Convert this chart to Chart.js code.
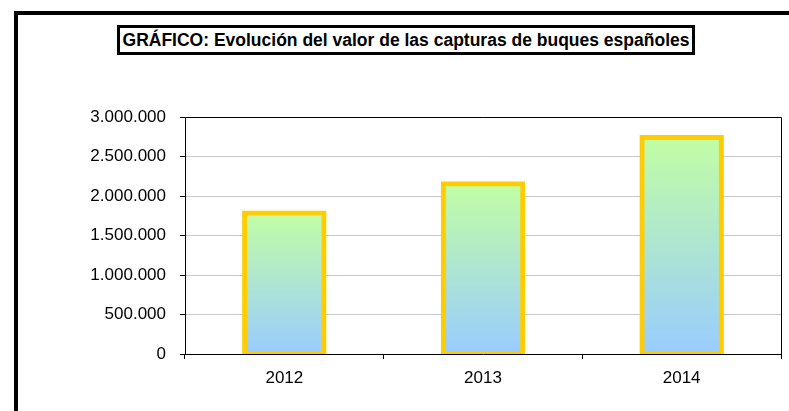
<!DOCTYPE html>
<html>
<head>
<meta charset="utf-8">
<script src="https://cdn.jsdelivr.net/npm/chart.js@4.4.1/dist/chart.umd.min.js"></script>
<style>
  html, body { margin: 0; padding: 0; background: #fff; overflow: hidden; }
  #wrap { position: relative; width: 789px; height: 411px; }
  #frame {
    position: absolute; left: 14px; top: 11px; width: 800px; height: 420px;
    border: 4px solid #000; box-sizing: border-box;
  }
  #title {
    position: absolute; left: 117px; top: 25px; width: 578px; height: 30px;
    border: 3px solid #000; box-sizing: border-box;
    font: bold 17.5px 'Liberation Sans', Arial, sans-serif;
    display: flex; align-items: center; justify-content: center; color: #000;
    background: #fff; white-space: nowrap;
  }
  canvas { position: absolute; left: 0; top: 0; }
</style>
</head>
<body>
<div id="wrap">
  <canvas id="chart" width="789" height="411"></canvas>
  <div id="frame"></div>
  <div id="title">GRÁFICO: Evolución del valor de las capturas de buques españoles</div>
</div>
<script>
  // ── Datos ───────────────────────────────────────────────
  const years  = ['2012', '2013', '2014'];
  const values = [1785000, 2155000, 2740000];
  const yTicks = [0, 500000, 1000000, 1500000, 2000000, 2500000, 3000000];

  const GRAD_TOP    = '#c2fea4';
  const GRAD_BOTTOM = '#99ccff';
  const FONT = "'Liberation Sans', Arial, sans-serif";

  function fmt(v) {
    return String(v).replace(/\B(?=(\d{3})+(?!\d))/g, '.');
  }

  // gradiente por barra: verde arriba, azul abajo
  function barGradient(ctx) {
    const chart = ctx.chart;
    const { chartArea, scales } = chart;
    if (!chartArea || ctx.type !== 'data') return GRAD_BOTTOM;
    const top  = scales.y.getPixelForValue(ctx.raw);
    const base = scales.y.getPixelForValue(0);
    const g = chart.ctx.createLinearGradient(0, top, 0, base);
    g.addColorStop(0, GRAD_TOP);
    g.addColorStop(1, GRAD_BOTTOM);
    return g;
  }

  // marco del área de trazado (arriba y derecha)
  const plotFrame = {
    id: 'plotFrame',
    afterDraw(chart) {
      const { ctx, chartArea: a } = chart;
      ctx.save();
      ctx.strokeStyle = '#000';
      ctx.lineWidth = 1;
      ctx.beginPath();
      ctx.moveTo(a.left, a.top + 0.5);
      ctx.lineTo(a.right + 0.5, a.top + 0.5);
      ctx.lineTo(a.right + 0.5, a.bottom);
      ctx.stroke();
      ctx.restore();
    },
  };

  new Chart(document.getElementById('chart'), {
    type: 'bar',
    data: {
      labels: years,
      datasets: [{
        data: values,
        backgroundColor: barGradient,
        borderColor: '#ffcc00',
        borderWidth: 5,
        borderSkipped: false,
        inflateAmount: 2.5,   // borde centrado sobre el contorno, como en Excel
        barPercentage: 0.40,
        categoryPercentage: 1,
      }],
    },
    options: {
      responsive: false,
      animation: false,
      layout: { padding: { left: 0, top: 117, right: 8, bottom: 0 } },
      scales: {
        x: {
          offset: true,
          grid: {
            offset: true,
            color: 'transparent',
            tickColor: '#000',
            tickLength: 5,
          },
          border: { color: '#000', width: 1 },
          ticks: { color: '#000', padding: 9, font: { family: FONT, size: 17 } },
          afterFit: s => { s.height = 57; },
        },
        y: {
          min: 0,
          max: 3000000,
          afterBuildTicks: s => { s.ticks = yTicks.map(v => ({ value: v })); },
          grid: { color: '#c8c8c8', tickColor: '#000', tickLength: 5 },
          border: { color: '#000', width: 1 },
          ticks: { color: '#000', padding: 14, font: { family: FONT, size: 17 }, callback: v => fmt(v) },
          afterFit: s => { s.width = 185; },
        },
      },
      plugins: {
        legend: { display: false },
        tooltip: { enabled: false },
      },
    },
    plugins: [plotFrame],
  });
</script>
</body>
</html>
